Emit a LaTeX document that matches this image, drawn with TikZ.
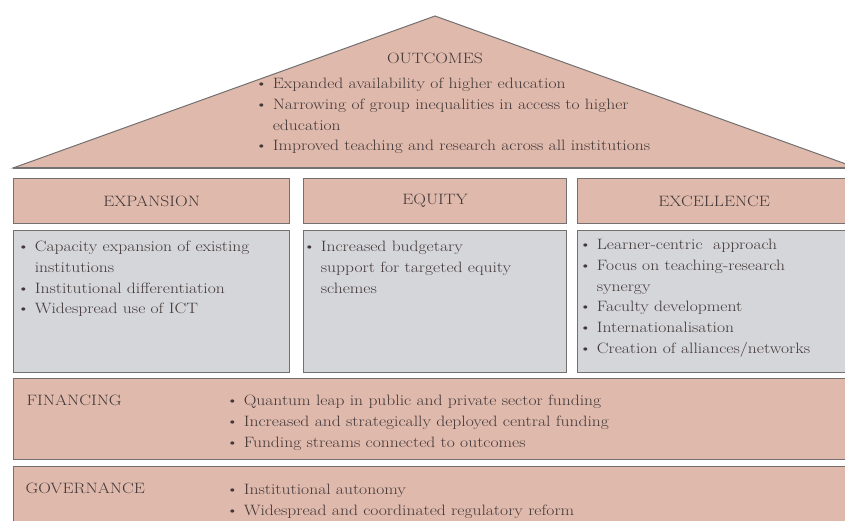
\documentclass[tikz,border=0pt]{standalone}
\usepackage{fontspec}
\setmainfont{Latin Modern Roman}[FakeStretch=1.17]
\usepackage{tikz}
\definecolor{roof}{RGB}{222,185,172}
\definecolor{panelgray}{RGB}{212,214,218}
\definecolor{edge}{RGB}{115,112,112}
\definecolor{ink}{RGB}{68,56,56}
\newcommand{\bul}{\textbullet\hspace{5pt}}
\newcommand{\pad}{\phantom{\bul}}

\begin{document}
\begin{tikzpicture}[x=1pt, y=-1pt,
  every node/.style={text=ink, font=\fontsize{15}{20.7}\selectfont},
  header/.style={shape=rectangle, draw=edge, line width=1.2pt, fill=roof, anchor=north west, inner sep=0pt},
  panel/.style={shape=rectangle, draw=edge, line width=1.2pt, fill=panelgray, anchor=north west, inner sep=0pt},
  items/.style={align=left, anchor=north west, inner sep=0pt}]
\useasboundingbox (0,0) rectangle (845,521);
\clip (0,0) rectangle (845,521);
% roof
\coordinate (eaveL) at (13,168);
\coordinate (ridge) at (435,16);
\coordinate (eaveR) at (857,168);
\draw[draw=edge, fill=roof, line width=1pt] (eaveL) -- (ridge) -- (eaveR) -- cycle;
\draw[draw=edge, line width=1.8pt] (eaveL) -- (eaveR);
\node[anchor=base] (outcomes) at (435,64) {OUTCOMES};
\node[items] (outitems) at (255,78) {\bul Expanded availability of higher education\\
  \bul Narrowing of group inequalities in access to higher\\
  \pad education\\
  \bul Improved teaching and research across all institutions};
% pillars
\node[header, minimum width=276pt, minimum height=45pt] (expansion) at (13,178) {EXPANSION};
\node[header, minimum width=263pt, minimum height=45pt] (equity) at (303,178) {EQUITY};
\node[header, minimum width=273pt, minimum height=45pt] (excellence) at (577,178) {EXCELLENCE};
\node[panel, minimum width=276pt, minimum height=142pt] (exppanel) at (13,230) {};
\node[panel, minimum width=263pt, minimum height=142pt] (eqpanel) at (303,230) {};
\node[panel, minimum width=273pt, minimum height=142pt] (excpanel) at (577,230) {};
\node[items] (expitems) at (17,241) {\bul Capacity expansion of existing\\
  \pad institutions\\
  \bul Institutional differentiation\\
  \bul Widespread use of ICT};
\node[items] (eqitems) at (303,241) {\bul Increased budgetary\\
  \pad support for targeted equity\\
  \pad schemes};
\node[items] (excitems) at (579,239) {\bul Learner-centric\ \ approach\\
  \bul Focus on teaching-research\\
  \pad synergy\\
  \bul Faculty development\\
  \bul Internationalisation\\
  \bul Creation of alliances/networks};
% foundation
\node[header, minimum width=837pt, minimum height=81pt] (financing) at (13,378) {};
\node[header, minimum width=837pt, minimum height=70pt] (governance) at (13,466) {};
\node[anchor=base west] (finlabel) at (23,405) {FINANCING};
\node[anchor=base west] (govlabel) at (22,493) {GOVERNANCE};
\node[items] (finitems) at (226,395) {\bul Quantum leap in public and private sector funding\\
  \bul Increased and strategically deployed central funding\\
  \bul Funding streams connected to outcomes};
\node[items] (govitems) at (226,484) {\bul Institutional autonomy\\
  \bul Widespread and coordinated regulatory reform};
\end{tikzpicture}
\end{document}
